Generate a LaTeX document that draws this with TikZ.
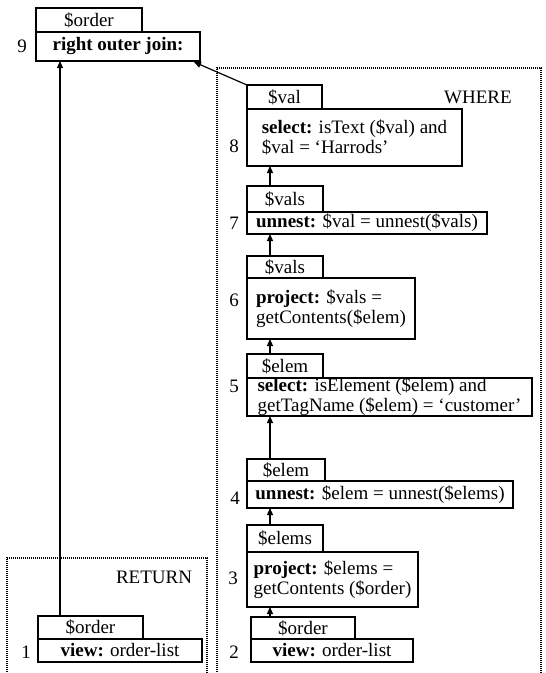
\documentclass[tikz,border=0pt]{standalone}
\usepackage{fontspec}
\setmainfont{Liberation Serif}
\usetikzlibrary{arrows.meta,calc}
\begin{document}
\begin{tikzpicture}[x=1pt,y=-1pt,
  every node/.style={font=\fontsize{19}{20}\selectfont, inner sep=0pt, outer sep=0pt},
  boxline/.style={draw, line width=1.3pt},
  tab/.style={boxline, anchor=north west},
  opbox/.style={boxline, anchor=north west, align=left},
  region/.style={line width=1.6pt, dash pattern=on 1.2pt off 0.8pt},
  arr/.style={line width=1.2pt, -{Triangle[length=7pt,width=6pt]}}
]
\useasboundingbox (0,0) rectangle (546,673);
\clip (0,0) rectangle (546,673);

% dotted query regions (open at the bottom)
\draw[region] (217,680) |- (541,68) -- (541,680);
\draw[region] (7,680) |- (207,558) -- (207,680);
\node (where) at (478,97) {WHERE};
\node (return) at (154,577) {RETURN};

% step 9: join
\node[tab, minimum width=106, minimum height=24] (t9) at (36,8) {\$order};
\node[opbox, minimum width=164, minimum height=29] (m9) at (36,32) {\textbf{right outer join:}};
\node (n9) at (22,46) {9};

% step 8
\node[tab, minimum width=75, minimum height=24] (t8) at (247,85) {\$val};
\node[opbox, minimum width=215, minimum height=57] (m8) at (247,109)
  {\textbf{select:} isText (\$val) and\\\$val = ‘Harrods’};
\node (n8) at (234,146) {8};

% step 7
\node[tab, minimum width=76, minimum height=26] (t7) at (247,186) {\$vals};
\node[opbox, minimum width=240, minimum height=22] (m7) at (247,212)
  {\textbf{unnest:} \$val = unnest(\$vals)};
\node (n7) at (234,223) {7};

% step 6
\node[tab, minimum width=76, minimum height=22] (t6) at (247,256) {\$vals};
\node[opbox, minimum width=168, minimum height=61] (m6) at (247,278)
  {\textbf{project:} \$vals =\\getContents(\$elem)};
\node (n6) at (234,300) {6};

% step 5
\node[tab, minimum width=76, minimum height=24] (t5) at (247,354) {\$elem};
\node[opbox, minimum width=285, minimum height=38] (m5) at (247,378)
  {\textbf{select:} isElement (\$elem) and\\getTagName (\$elem) = ‘customer’};
\node (n5) at (234,386) {5};

% step 4
\node[tab, minimum width=78, minimum height=22] (t4) at (247,459) {\$elem};
\node[opbox, minimum width=266, minimum height=27] (m4) at (247,481)
  {\textbf{unnest:} \$elem = unnest(\$elems)};
\node (n4) at (235,498) {4};

% step 3
\node[tab, minimum width=76, minimum height=27] (t3) at (247,525) {\$elems};
\node[opbox, minimum width=171, minimum height=55] (m3) at (247,552)
  {\textbf{project:} \$elems =\\getContents (\$order)};
\node (n3) at (233,578) {3};

% step 2
\node[tab, minimum width=104, minimum height=22] (t2) at (251,617) {\$order};
\node[opbox, minimum width=162, minimum height=23] (m2) at (251,639) {\textbf{view:} order-list};
\node (n2) at (234,652) {2};

% step 1
\node[tab, minimum width=105, minimum height=23] (t1) at (38,616) {\$order};
\node[opbox, minimum width=164, minimum height=23] (m1) at (38,639) {\textbf{view:} order-list};
\node (n1) at (26,652) {1};

% data flow
\coordinate (ax) at (270,0);
\coordinate (bx) at (60,0);
\draw[arr] (t1.north -| bx) -- (m9.south -| bx);
\draw[arr] (t8.north west) -- ($(m9.south east)+(-6,1)$);
\draw[arr] (t7.north -| ax) -- (m8.south -| ax);
\draw[arr] (t6.north -| ax) -- (m7.south -| ax);
\draw[arr] (t5.north -| ax) -- (m6.south -| ax);
\draw[arr] (t4.north -| ax) -- (m5.south -| ax);
\draw[arr] (t3.north -| ax) -- (m4.south -| ax);
\draw[arr] (t2.north -| ax) -- (m3.south -| ax);
\end{tikzpicture}
\end{document}
